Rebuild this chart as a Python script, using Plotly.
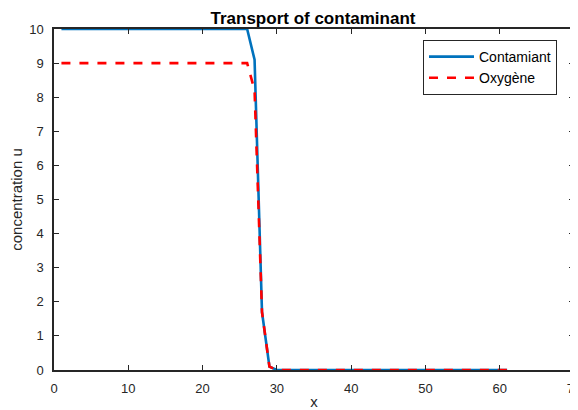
import plotly.graph_objects as go

x = list(range(1, 62))
contaminant = [10.0] * 26 + [9.1, 1.7, 0.1] + [0.0] * 32
oxygene = [9.0] * 26 + [8.2, 1.7, 0.1] + [0.0] * 32

x_ticks = [0, 10, 20, 30, 40, 50, 60, 70]
y_ticks = list(range(0, 11))

FONT = "Liberation Sans, Arial"

fig = go.Figure()
fig.add_trace(go.Scatter(x=x, y=contaminant, mode="lines", name="Contamiant",
                         line=dict(color="#0072BD", width=2.6)))
fig.add_trace(go.Scatter(x=x, y=oxygene, mode="lines", name="Oxygène",
                         line=dict(color="#FF0000", width=2.6, dash="dash")))

axis_common = dict(showline=True, linecolor="#262626", linewidth=1.5, mirror="ticks",
                   ticks="inside", ticklen=5, tickwidth=1.2, tickcolor="#262626", showgrid=False,
                   zeroline=False, automargin=False, ticklabeloverflow="allow",
                   tickfont=dict(family=FONT, size=13, color="#262626"))

# page body has an 8px margin, so the figure is shifted by 8px; compensate
fig.update_layout(
    width=570, height=402,
    margin=dict(l=46, r=4, t=21, b=40),
    paper_bgcolor="white", plot_bgcolor="white",
    title=dict(text="<b>Transport of contaminant</b>", x=305 / 570, xanchor="center",
               y=1 - 10 / 402, yanchor="middle", automargin=False,
               font=dict(family=FONT, size=17, color="black")),
    xaxis=dict(range=[0, 70], tickvals=x_ticks, ticklabelstandoff=6,
               title=dict(text="x", standoff=5, font=dict(family=FONT, size=15, color="#262626")),
               **axis_common),
    yaxis=dict(range=[0, 10], tickvals=y_ticks, ticklabelstandoff=6,
               title=dict(text="concentration u", standoff=8, font=dict(family=FONT, size=15, color="#262626")),
               **axis_common),
    legend=dict(x=(423 - 54) / 520, y=(370 - 40) / 341, xanchor="left", yanchor="top", bgcolor="white",
                bordercolor="#262626", borderwidth=1, itemwidth=45,
                font=dict(family=FONT, size=14, color="black"),
                tracegroupgap=0),
    showlegend=True,
)

fig.write_html("out.html")
